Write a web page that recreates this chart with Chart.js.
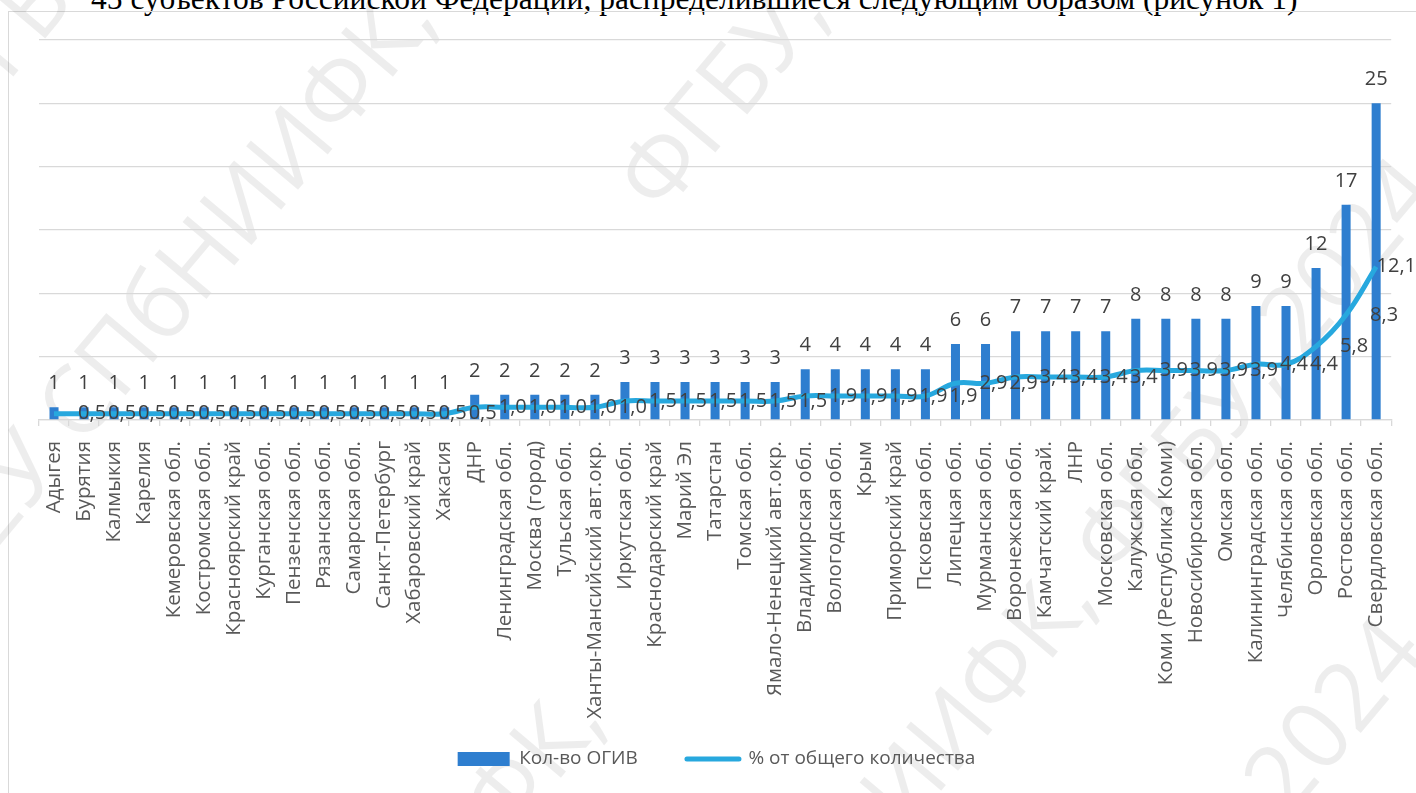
<!DOCTYPE html>
<html>
<head>
<meta charset="utf-8">
<script src="https://cdn.jsdelivr.net/npm/chart.js@4.4.1/dist/chart.umd.min.js"></script>
<style>
  html, body { margin: 0; padding: 0; background: #ffffff; overflow: hidden; }
  #page { position: relative; width: 1416px; height: 793px; overflow: hidden; }
  #caption {
    position: absolute; left: 91px; top: -17px;
    font-family: "Liberation Serif", "Times New Roman", serif;
    font-size: 31.5px; line-height: 31.5px; color: #000; white-space: nowrap;
  }
  #frame {
    position: absolute; left: 8px; top: 11px; width: 1430px; height: 800px;
    border: 1px solid #d9d9d9;
  }
  #chart { position: absolute; left: 0; top: 0; }
</style>
</head>
<body>
<div id="page">
  <div id="caption">45 субъектов Российской Федерации, распределившиеся следующим образом (рисунок 1)</div>
  <div id="frame"></div>
  <canvas id="chart" width="1416" height="793"></canvas>
</div>
<script>
// ------------------------------------------------------
// data
// ------------------------------------------------------

const regions = [
    "Адыгея", "Бурятия", "Калмыкия", "Карелия", "Кемеровская обл.",
    "Костромская обл.", "Красноярский край", "Курганская обл.", "Пензенская обл.",
    "Рязанская обл.", "Самарская обл.", "Санкт-Петербург", "Хабаровский край",
    "Хакасия", "ДНР", "Ленинградская обл.", "Москва (город)", "Тульская обл.",
    "Ханты-Мансийский авт.окр.", "Иркутская обл.", "Краснодарский край", "Марий Эл",
    "Татарстан", "Томская обл.", "Ямало-Ненецкий авт.окр.", "Владимирская обл.",
    "Вологодская обл.", "Крым", "Приморский край", "Псковская обл.", "Липецкая обл.",
    "Мурманская обл.", "Воронежская обл.", "Камчатский край.", "ЛНР",
    "Московская обл.", "Калужская обл.", "Коми (Республика Коми)",
    "Новосибирская обл.", "Омская обл.", "Калининградская обл.",
    "Челябинская обл.", "Орловская обл.", "Ростовская обл.", "Свердловская обл."
];

const counts = [
    1, 1, 1, 1, 1, 1, 1, 1, 1, 1, 1, 1, 1, 1,
    2, 2, 2, 2, 2,
    3, 3, 3, 3, 3, 3,
    4, 4, 4, 4, 4,
    6, 6,
    7, 7, 7, 7,
    8, 8, 8, 8,
    9, 9,
    12, 17, 25
];

const percents = [
    0.5, 0.5, 0.5, 0.5, 0.5, 0.5, 0.5, 0.5, 0.5, 0.5, 0.5, 0.5, 0.5, 0.5,
    1.0, 1.0, 1.0, 1.0, 1.0,
    1.5, 1.5, 1.5, 1.5, 1.5, 1.5,
    1.9, 1.9, 1.9, 1.9, 1.9,
    2.9, 2.9,
    3.4, 3.4, 3.4, 3.4,
    3.9, 3.9, 3.9, 3.9,
    4.4, 4.4,
    5.8, 8.3, 12.1
];

const seriesNames = ["Кол-во ОГИВ", "% от общего количества"];

const yMin = 0;
const yMax = 30;
const yStep = 5;

const watermarkParts = ["ЕУ СПбНИИФК,", "ФГБУ, 2024"];

// ------------------------------------------------------
// look
// ------------------------------------------------------

const BAR_COLOR = "#2E7ECF";
const LINE_COLOR = "#27A8DE";
const GRID_COLOR = "#d9d9d9";
const TEXT_COLOR = "#595959";
const LABEL_COLOR = "#404040";
const FONT = "'Open Sans', 'Noto Sans', sans-serif";

const LEGEND_FONT = 19;
const LEGEND_PAD = 27;
const PLOT_BOTTOM = 420;
const PAD_BOTTOM = 14.5;

function fmt(v) {
    return v.toFixed(1).replace(".", ",");
}

// ------------------------------------------------------
// plugins
// ------------------------------------------------------

// faint diagonal stamp behind the chart
const watermarkPlugin = {
    id: "watermark",
    beforeDraw(chart) {
        const ctx = chart.ctx;
        const full = watermarkParts.join(" ");
        const stamps = [
            [-27, 535, watermarkParts[0]],
            [141, 1236, watermarkParts[0]],
            [640, 200, watermarkParts[1]],
            [-62, 124, watermarkParts[1]],
            [633, 1116, full],
            [618, 1576, full]
        ];
        ctx.save();
        ctx.font = "95px " + FONT;
        ctx.fillStyle = "rgba(0,0,0,0.07)";
        ctx.textBaseline = "middle";
        ctx.textAlign = "left";
        stamps.forEach(s => {
            ctx.save();
            ctx.translate(s[0], s[1]);
            ctx.rotate(-50 * Math.PI / 180);
            ctx.fillText(s[2], 0, 0);
            ctx.restore();
        });
        ctx.restore();
    }
};

// value labels like Excel data labels
const valueLabelPlugin = {
    id: "valueLabels",
    afterDatasetsDraw(chart) {
        const ctx = chart.ctx;
        const barMeta = chart.getDatasetMeta(0);
        const lineMeta = chart.getDatasetMeta(1);

        ctx.save();
        ctx.font = "20px " + FONT;
        ctx.fillStyle = LABEL_COLOR;

        ctx.textAlign = "center";
        ctx.textBaseline = "alphabetic";
        barMeta.data.forEach((bar, i) => {
            ctx.fillText(String(counts[i]), bar.x, bar.y - 18);
        });

        ctx.textAlign = "left";
        ctx.textBaseline = "middle";
        lineMeta.data.forEach((pt, i) => {
            const txt = fmt(percents[i]);
            const w = ctx.measureText(txt).width;
            let x = pt.x + 24;
            if (x + w > chart.width) x = chart.width - w;
            ctx.fillText(txt, x, pt.y);
        });
        ctx.restore();
    }
};

// ------------------------------------------------------
// chart
// ------------------------------------------------------

const canvas = document.getElementById("chart");

new Chart(canvas, {
    data: {
        labels: regions,
        datasets: [
            {
                type: "bar",
                label: seriesNames[0],
                data: counts,
                backgroundColor: BAR_COLOR,
                categoryPercentage: 0.5,
                barPercentage: 0.6,
                order: 2
            },
            {
                type: "line",
                label: seriesNames[1],
                data: percents,
                borderColor: LINE_COLOR,
                backgroundColor: LINE_COLOR,
                borderWidth: 5,
                pointRadius: 0,
                tension: 0.4,
                order: 1
            }
        ]
    },
    options: {
        responsive: false,
        animation: false,
        layout: {
            padding: { left: 39, right: 22, top: 40, bottom: PAD_BOTTOM }
        },
        plugins: {
            tooltip: { enabled: false },
            legend: {
                position: "bottom",
                labels: {
                    color: TEXT_COLOR,
                    font: { family: FONT, size: LEGEND_FONT },
                    padding: LEGEND_PAD,
                    usePointStyle: true,
                    pointStyleWidth: 52,
                    boxHeight: 14,
                    generateLabels(chart) {
                        return [
                            {
                                // trailing spaces widen the gap to the next item
                                text: seriesNames[0] + "\u2003\u2009",
                                fillStyle: BAR_COLOR,
                                strokeStyle: BAR_COLOR,
                                lineWidth: 0,
                                pointStyle: "rect",
                                datasetIndex: 0,
                                fontColor: TEXT_COLOR
                            },
                            {
                                text: seriesNames[1],
                                fillStyle: LINE_COLOR,
                                strokeStyle: LINE_COLOR,
                                lineWidth: 5,
                                lineCap: "round",
                                pointStyle: "line",
                                datasetIndex: 1,
                                fontColor: TEXT_COLOR
                            }
                        ];
                    }
                }
            }
        },
        scales: {
            x: {
                offset: true,
                grid: {
                    offset: true,
                    drawOnChartArea: false,
                    drawTicks: true,
                    tickLength: 6,
                    color: GRID_COLOR,
                    lineWidth: 1.3
                },
                border: { color: GRID_COLOR, width: 1.3 },
                ticks: {
                    autoSkip: false,
                    maxRotation: 90,
                    minRotation: 90,
                    padding: 15,
                    color: TEXT_COLOR,
                    font: { family: FONT, size: 20.5 }
                },
                afterFit(scale) {
                    scale.height = 793 - PAD_BOTTOM - (LEGEND_FONT + LEGEND_PAD + 10) - PLOT_BOTTOM;
                }
            },
            y: {
                min: yMin,
                max: yMax,
                ticks: { stepSize: yStep, display: false },
                grid: { color: GRID_COLOR, lineWidth: 1.3, drawTicks: false },
                border: { display: false },
                afterFit(scale) {
                    scale.width = 0;
                }
            }
        }
    },
    plugins: [watermarkPlugin, valueLabelPlugin]
});
</script>
</body>
</html>
